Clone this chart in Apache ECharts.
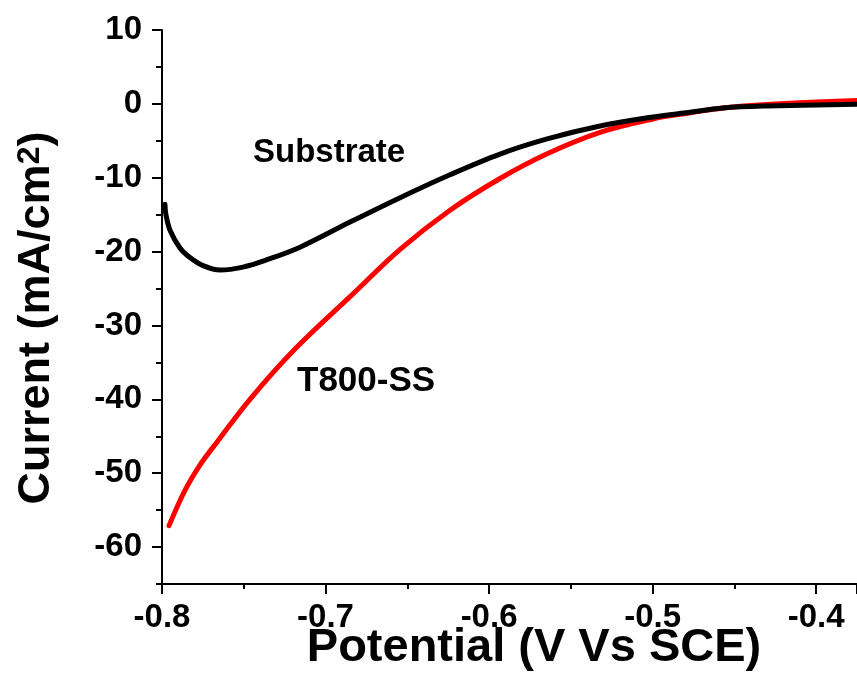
<!DOCTYPE html>
<html>
<head>
<meta charset="utf-8">
<script src="https://cdn.jsdelivr.net/npm/echarts@6/dist/echarts.min.js"></script>
<style>
html,body{margin:0;padding:0;background:#fff;}
#c{width:857px;height:688px;}
</style>
</head>
<body>
<div id="c"></div>
<script>
var substrateX = [-0.7982,-0.7976,-0.7951,-0.7890,-0.7829,-0.7749,-0.7645,-0.7505,-0.7358,-0.7156,-0.6850,-0.6544,-0.6239,-0.5933,-0.5645,-0.5321,-0.4997,-0.4795,-0.4569,-0.4300,-0.3749];
var substrateY = [-13.6,-15.0,-17.1,-19.5,-20.8,-21.9,-22.5,-22.1,-21.1,-19.4,-16.0,-12.7,-9.6,-6.8,-4.75,-3.0,-1.77,-1.2,-0.55,-0.28,-0.05];
var t800X = [-0.7957,-0.7859,-0.7768,-0.7664,-0.7462,-0.7187,-0.6850,-0.6544,-0.6239,-0.5933,-0.5645,-0.5321,-0.4997,-0.4795,-0.4569,-0.4300,-0.3749];
var t800Y = [-57.1,-52.3,-48.9,-45.8,-40.0,-33.2,-26.1,-19.7,-14.4,-10.1,-6.75,-3.85,-2.04,-1.3,-0.55,-0.08,0.45];
var yMajorTicks = [-60,-50,-40,-30,-20,-10,0,10];
var yMinorTicks = [-65,-55,-45,-35,-25,-15,-5,5];
var xTitle = 'Potential (V Vs SCE)';
var yTitleMain = 'Current (mA/cm';
var yTitleSup = '2';
var substrateLabel = 'Substrate';
var t800Label = 'T800-SS';

function pairs(xs, ys){ return xs.map(function(x,i){ return [x, ys[i]]; }); }

var FONT = '"Liberation Sans", Arial, Helvetica, sans-serif';
var chart = echarts.init(document.getElementById('c'), null, {renderer:'canvas'});
chart.setOption({
  animation:false,
  backgroundColor:'#fff',
  grid:{left:162, right:0, top:30, bottom:104, containLabel:false},
  xAxis:{
    type:'value', min:-0.8, max:-0.375, interval:0.1,
    axisLine:{show:true, onZero:false, lineStyle:{color:'#000', width:2}},
    axisTick:{show:true, inside:false, length:10, lineStyle:{color:'#000', width:2}},
    minorTick:{show:true, splitNumber:2, length:5, lineStyle:{color:'#000', width:2}},
    splitLine:{show:false},
    axisLabel:{show:true, margin:17, color:'#000', fontFamily:FONT, fontWeight:'bold', fontSize:33,
      formatter:function(v){ return (Math.round(v*10)/10).toFixed(1); },
      showMaxLabel:false}
  },
  yAxis:[{
    type:'value', min:-65, max:10, position:'left',
    axisLine:{show:true, onZero:false, lineStyle:{color:'#000', width:2}},
    axisTick:{show:true, inside:false, length:10, customValues:yMajorTicks, lineStyle:{color:'#000', width:2}},
    splitLine:{show:false},
    axisLabel:{show:true, margin:20, color:'#000', fontFamily:FONT, fontWeight:'bold', fontSize:33, customValues:yMajorTicks}
  },{
    type:'value', min:-65, max:10, position:'left',
    axisLine:{show:false, onZero:false},
    axisTick:{show:true, inside:false, length:6, customValues:yMinorTicks, lineStyle:{color:'#000', width:2}},
    splitLine:{show:false},
    axisLabel:{show:false}
  }],
  series:[{
    type:'line', name:'T800-SS', data:pairs(t800X, t800Y), yAxisIndex:0,
    showSymbol:false, symbol:'none', smooth:0.35,
    lineStyle:{color:'#ff0000', width:5, cap:'round', join:'round'}
  },{
    type:'line', name:'Substrate', data:pairs(substrateX, substrateY), yAxisIndex:0,
    showSymbol:false, symbol:'none', smooth:0.35,
    lineStyle:{color:'#000000', width:5, cap:'round', join:'round'}
  }],
  graphic:[
    {type:'text', x:253, y:153, style:{text:substrateLabel, fill:'#000', font:'bold 33px '+FONT, align:'left', verticalAlign:'middle'}, z:100},
    {type:'text', x:297, y:381, style:{text:t800Label, fill:'#000', font:'bold 35px '+FONT, align:'left', verticalAlign:'middle'}, z:100},
    {type:'text', x:534, y:648, style:{text:xTitle, fill:'#000', font:'bold 47px '+FONT, align:'center', verticalAlign:'middle'}, z:100},
    {type:'text', x:37, y:318, rotation:Math.PI/2,
      style:{text:'{a|'+yTitleMain+'}{b|'+yTitleSup+'}{a|)}', align:'center', verticalAlign:'middle',
        rich:{a:{fontFamily:FONT, fontWeight:'bold', fontSize:45, lineHeight:45, fill:'#000', color:'#000', verticalAlign:'bottom'},
              b:{fontFamily:FONT, fontWeight:'bold', fontSize:32, lineHeight:32, padding:[0,0,28,0], fill:'#000', color:'#000', verticalAlign:'top'}}}, z:100}
  ]
});
</script>
</body>
</html>
